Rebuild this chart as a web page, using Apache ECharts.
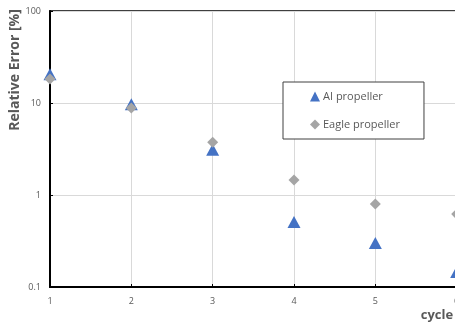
<!DOCTYPE html>
<html><head><meta charset="utf-8">
<script src="https://cdn.jsdelivr.net/npm/echarts@6/dist/echarts.min.js"></script>
<style>html,body{margin:0;padding:0;background:#fff}#c{width:455px;height:324px}</style>
</head><body><div id="c"></div>
<script>
var cycles = [1, 2, 3, 4, 5, 6];
var aiPropeller = [20.5, 9.7, 3.1, 0.51, 0.30, 0.146];
var eaglePropeller = [18.2, 8.8, 3.75, 1.46, 0.80, 0.62];
var seriesNames = ['AI propeller', 'Eagle propeller'];
var yTitle = 'Relative Error [%]';
var xTitle = 'cycle';

function pairs(xs, ys){ return xs.map(function(x,i){ return [x, ys[i]]; }); }

var chart = echarts.init(document.getElementById('c'));
chart.setOption({
  animation: false,
  backgroundColor: '#fff',
  grid: { left: 50, top: 11, width: 488, height: 276, outerBoundsMode: 'none', containLabel: false,
          show: true, borderColor: '#000', borderWidth: 1.5 },
  xAxis: {
    type: 'value', min: 1, max: 7, interval: 1,
    axisLine: { show: true, onZero: false, lineStyle: { color: '#000', width: 2 } },
    axisTick: { show: true, inside: true, length: 3, lineStyle: { color: '#000' } },
    axisLabel: { color: '#595959', fontSize: 9, fontFamily: 'Open Sans', margin: 10 },
    splitLine: { show: true, lineStyle: { color: '#d9d9d9', width: 1 } }
  },
  yAxis: {
    type: 'log', logBase: 10, min: 0.1, max: 100,
    axisLine: { show: true, lineStyle: { color: '#000', width: 2 } },
    axisTick: { show: true, inside: true, length: 3, lineStyle: { color: '#000' } },
    minorTick: { show: false },
    axisLabel: { color: '#595959', fontSize: 9, fontFamily: 'Open Sans', margin: 9 },
    splitLine: { show: true, lineStyle: { color: '#d9d9d9', width: 1 } }
  },
  legend: {
    left: 283, top: 82, orient: 'vertical',
    padding: [9, 24, 9, 27], itemGap: 17,
    itemWidth: 10, itemHeight: 10,
    backgroundColor: '#fff', borderColor: '#404040', borderWidth: 1,
    textStyle: { color: '#595959', fontSize: 11, fontFamily: 'Open Sans', padding: [0,0,0,-2] },
    data: [
      { name: seriesNames[0], icon: 'triangle', itemStyle: { opacity: 1 } },
      { name: seriesNames[1], icon: 'diamond', itemStyle: { opacity: 1 } }
    ]
  },
  graphic: [
    { type: 'text', x: 15, y: 70, rotation: Math.PI/2,
      style: { text: yTitle, fill: '#595959', font: 'bold 14px "Open Sans"', textAlign: 'center', textVerticalAlign: 'middle' } },
    { type: 'text', x: 437, y: 315,
      style: { text: xTitle, fill: '#595959', font: 'bold 13px "Open Sans"', textAlign: 'center', textVerticalAlign: 'middle' } }
  ],
  series: [
    { name: seriesNames[0], type: 'scatter', symbol: 'triangle', symbolSize: [13, 12],
      itemStyle: { color: '#4472C4', opacity: 1 }, data: pairs(cycles, aiPropeller), z: 3 },
    { name: seriesNames[1], type: 'scatter', symbol: 'diamond', symbolSize: 11,
      itemStyle: { color: '#A5A5A5', opacity: 1 }, data: pairs(cycles, eaglePropeller), z: 4 }
  ]
});
</script></body></html>
